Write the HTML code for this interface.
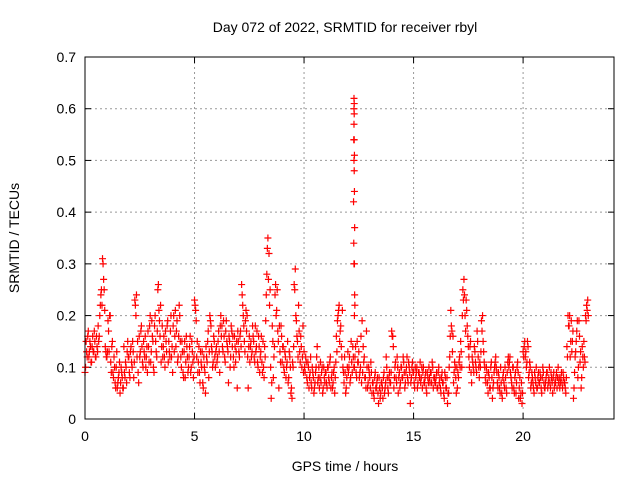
<!DOCTYPE html>
<html><head><meta charset="utf-8"><style>
body{margin:0;background:#fff;width:640px;height:480px;overflow:hidden}
svg{font-family:"Liberation Sans",sans-serif}
</style></head><body>
<svg id="chart" width="640" height="480" viewBox="0 0 640 480">
<rect width="640" height="480" fill="#fff"/>
<text x="345" y="32" font-size="14" text-anchor="middle">Day 072 of 2022, SRMTID for receiver rbyl</text>
<text x="345" y="471" font-size="14" text-anchor="middle">GPS time / hours</text>
<text transform="translate(19,238) rotate(-90)" font-size="14" text-anchor="middle">SRMTID / TECUs</text>
<g id="grid"></g>
<g id="ticks"></g>
<g id="points"></g>
<rect x="85" y="57" width="529" height="362" fill="none" stroke="#000" stroke-width="1"/>
</svg>
<script>
const xTicks=[0,5,10,15,20];
const yTicks=[0,0.1,0.2,0.3,0.4,0.5,0.6,0.7];
const yTickLabels=["0","0.1","0.2","0.3","0.4","0.5","0.6","0.7"];
const timeStart=0, timeStep=0.05, timeStart2=0.025;
const srmtid=[
0.09,0.15,0.12,0.17,0.13,0.14,0.11,0.16,0.13,0.15,0.12,0.14,0.18,0.16,0.22,0.25,0.31,0.27,0.21,0.13,
0.12,0.19,0.13,0.2,0.09,0.15,0.08,0.1,0.06,0.13,0.07,0.09,0.05,0.1,0.08,0.06,0.09,0.11,0.07,0.15,
0.12,0.08,0.14,0.1,0.13,0.11,0.22,0.24,0.15,0.07,0.12,0.17,0.14,0.1,0.13,0.16,0.12,0.09,0.14,0.18,
0.11,0.19,0.15,0.09,0.2,0.13,0.17,0.26,0.19,0.22,0.14,0.12,0.16,0.1,0.15,0.18,0.11,0.13,0.17,0.12,
0.09,0.2,0.16,0.14,0.19,0.12,0.22,0.15,0.1,0.13,0.08,0.15,0.11,0.14,0.09,0.12,0.16,0.1,0.13,0.08,
0.23,0.21,0.12,0.09,0.14,0.07,0.11,0.13,0.06,0.1,0.05,0.12,0.15,0.08,0.2,0.18,0.13,0.11,0.15,0.1,
0.14,0.12,0.17,0.09,0.2,0.18,0.13,0.16,0.11,0.19,0.14,0.07,0.15,0.12,0.17,0.16,0.1,0.14,0.13,0.06,
0.15,0.12,0.17,0.26,0.22,0.18,0.13,0.21,0.2,0.06,0.16,0.14,0.12,0.18,0.15,0.11,0.13,0.17,0.1,0.14,
0.12,0.16,0.09,0.1,0.14,0.19,0.28,0.35,0.32,0.25,0.04,0.18,0.08,0.14,0.26,0.21,0.17,0.06,0.13,0.18,
0.11,0.14,0.09,0.12,0.1,0.15,0.08,0.12,0.05,0.04,0.1,0.26,0.29,0.19,0.15,0.22,0.13,0.16,0.1,0.18,
0.13,0.09,0.11,0.07,0.1,0.08,0.12,0.06,0.09,0.05,0.07,0.1,0.14,0.08,0.06,0.11,0.09,0.05,0.1,0.07,
0.09,0.06,0.1,0.07,0.12,0.08,0.06,0.09,0.05,0.11,0.13,0.2,0.22,0.17,0.14,0.21,0.09,0.12,0.05,0.08,
0.13,0.1,0.07,0.15,0.09,0.12,0.1,0.14,0.08,0.11,0.13,0.09,0.16,0.19,0.14,0.12,0.08,0.17,0.06,0.1,
0.08,0.11,0.05,0.07,0.04,0.09,0.06,0.08,0.03,0.06,0.05,0.07,0.04,0.09,0.06,0.12,0.08,0.05,0.09,0.07,
0.17,0.16,0.06,0.1,0.08,0.12,0.05,0.09,0.07,0.1,0.08,0.11,0.06,0.09,0.12,0.07,0.1,0.03,0.08,0.11,
0.09,0.06,0.08,0.1,0.07,0.09,0.11,0.08,0.06,0.1,0.07,0.09,0.05,0.08,0.1,0.07,0.09,0.11,0.06,0.08,
0.07,0.09,0.06,0.1,0.08,0.05,0.09,0.07,0.04,0.08,0.06,0.03,0.05,0.12,0.21,0.17,0.16,0.09,0.1,0.05,
0.06,0.08,0.12,0.15,0.1,0.25,0.27,0.2,0.23,0.18,0.14,0.1,0.15,0.07,0.11,0.09,0.13,0.1,0.17,0.12,
0.08,0.1,0.19,0.2,0.13,0.1,0.07,0.09,0.05,0.08,0.06,0.11,0.04,0.07,0.1,0.12,0.09,0.06,0.08,0.05,
0.07,0.04,0.09,0.06,0.08,0.05,0.11,0.1,0.12,0.08,0.06,0.1,0.05,0.09,0.07,0.11,0.04,0.08,0.05,0.03,
0.13,0.14,0.12,0.1,0.15,0.08,0.11,0.06,0.09,0.07,0.05,0.08,0.1,0.06,0.09,0.07,0.08,0.05,0.1,0.07,
0.06,0.08,0.09,0.07,0.1,0.06,0.08,0.05,0.09,0.07,0.08,0.06,0.1,0.08,0.07,0.09,0.06,0.08,0.07,0.05,
0.14,0.2,0.18,0.12,0.19,0.15,0.04,0.09,0.13,0.17,0.08,0.19,0.11,0.06,0.14,0.1,0.12,0.2,0.22,0.23
];
const srmtid2=[
0.1,0.13,0.16,0.12,0.15,0.11,0.14,0.13,0.17,0.12,0.16,0.13,0.15,0.2,0.24,0.22,0.3,0.25,0.14,0.12,
0.13,0.17,0.2,0.11,0.14,0.09,0.12,0.07,0.1,0.06,0.08,0.11,0.07,0.09,0.06,0.14,0.08,0.1,0.13,0.12,
0.09,0.13,0.11,0.15,0.08,0.23,0.2,0.12,0.09,0.16,0.13,0.18,0.11,0.15,0.12,0.1,0.14,0.17,0.11,0.2,
0.13,0.16,0.1,0.18,0.15,0.12,0.25,0.21,0.16,0.11,0.18,0.14,0.12,0.17,0.13,0.19,0.15,0.12,0.2,0.14,
0.18,0.13,0.21,0.17,0.11,0.16,0.2,0.12,0.15,0.09,0.13,0.08,0.16,0.12,0.1,0.14,0.09,0.15,0.11,0.12,
0.22,0.19,0.15,0.11,0.09,0.13,0.1,0.07,0.12,0.09,0.14,0.11,0.17,0.13,0.19,0.14,0.1,0.16,0.12,0.13,
0.11,0.15,0.13,0.18,0.16,0.14,0.19,0.12,0.17,0.15,0.13,0.16,0.1,0.18,0.14,0.12,0.16,0.11,0.15,0.17,
0.13,0.16,0.14,0.24,0.2,0.15,0.19,0.17,0.12,0.14,0.11,0.15,0.13,0.16,0.12,0.18,0.14,0.11,0.16,0.09,
0.13,0.11,0.15,0.08,0.12,0.24,0.33,0.27,0.22,0.1,0.07,0.15,0.12,0.24,0.2,0.25,0.15,0.18,0.11,0.16,
0.14,0.1,0.13,0.08,0.11,0.07,0.13,0.1,0.06,0.11,0.14,0.25,0.2,0.16,0.12,0.17,0.11,0.14,0.12,0.09,
0.1,0.12,0.08,0.11,0.06,0.09,0.07,0.1,0.08,0.06,0.09,0.12,0.07,0.1,0.08,0.07,0.1,0.06,0.08,0.09,
0.07,0.1,0.08,0.11,0.06,0.09,0.07,0.1,0.08,0.16,0.19,0.21,0.15,0.18,0.12,0.1,0.07,0.09,0.06,0.1,
0.09,0.12,0.08,0.11,0.14,0.1,0.12,0.09,0.15,0.11,0.08,0.1,0.07,0.09,0.11,0.08,0.06,0.1,0.07,0.09,
0.06,0.09,0.07,0.05,0.08,0.06,0.07,0.05,0.08,0.04,0.07,0.06,0.08,0.05,0.07,0.1,0.06,0.08,0.07,0.09,
0.16,0.14,0.08,0.11,0.07,0.1,0.08,0.06,0.1,0.08,0.12,0.09,0.07,0.1,0.08,0.11,0.09,0.07,0.1,0.09,
0.07,0.1,0.09,0.06,0.09,0.08,0.07,0.1,0.09,0.07,0.08,0.06,0.09,0.07,0.08,0.09,0.07,0.1,0.08,0.07,
0.08,0.06,0.09,0.07,0.06,0.08,0.07,0.05,0.09,0.06,0.08,0.05,0.1,0.16,0.18,0.13,0.07,0.11,0.08,0.1,
0.09,0.11,0.1,0.13,0.2,0.23,0.24,0.17,0.21,0.16,0.12,0.14,0.09,0.12,0.1,0.14,0.11,0.09,0.15,0.1,
0.11,0.13,0.17,0.15,0.11,0.08,0.1,0.07,0.09,0.06,0.1,0.08,0.06,0.09,0.11,0.1,0.07,0.09,0.06,0.1,
0.05,0.08,0.07,0.1,0.06,0.09,0.12,0.11,0.09,0.07,0.1,0.06,0.08,0.05,0.1,0.09,0.06,0.04,0.07,0.05,
0.12,0.15,0.13,0.11,0.14,0.09,0.1,0.07,0.08,0.06,0.09,0.07,0.06,0.08,0.07,0.09,0.06,0.08,0.09,0.06,
0.07,0.09,0.06,0.08,0.07,0.09,0.07,0.08,0.06,0.07,0.09,0.08,0.07,0.06,0.08,0.07,0.09,0.07,0.06,0.08,
0.12,0.18,0.2,0.15,0.13,0.17,0.06,0.12,0.15,0.19,0.1,0.16,0.13,0.08,0.12,0.15,0.11,0.19,0.21,0.2
];
const spikeTimes=[12.28,12.29,12.28,12.29,12.28,12.27,12.29,12.28,12.3,12.29,12.3,12.26,12.31,12.27,12.28,12.3,12.31,12.32,12.3];
const spikeValues=[0.62,0.61,0.6,0.59,0.57,0.54,0.54,0.5,0.51,0.48,0.44,0.42,0.37,0.34,0.3,0.3,0.24,0.22,0.2];
const NS="http://www.w3.org/2000/svg";
const X0=85,X1=614,XMAX=24.15,Y0=419,Y1=57,YMAX=0.7;
const xs=v=>X0+(v/XMAX)*(X1-X0);
const ys=v=>Y0-(v/YMAX)*(Y0-Y1);
function mk(tag,attrs,parent){const e=document.createElementNS(NS,tag);for(const k in attrs)e.setAttribute(k,attrs[k]);parent.appendChild(e);return e;}
const grid=document.getElementById('grid'),ticks=document.getElementById('ticks'),pts=document.getElementById('points');
xTicks.forEach(t=>{
  const x=xs(t);
  if(t>0){const g=mk('line',{x1:x,x2:x,y1:Y0,y2:Y1,stroke:'#999','stroke-dasharray':'2,3'},grid);
  
  }
  mk('line',{x1:x,x2:x,y1:Y0,y2:Y0-6,stroke:'#000'},ticks);
  mk('line',{x1:x,x2:x,y1:Y1,y2:Y1+6,stroke:'#000'},ticks);
  const l=mk('text',{x:x,y:Y0+22,'font-size':14,'text-anchor':'middle'},ticks);l.textContent=t;
  
  
});
yTicks.forEach((t,i)=>{
  const y=ys(t);
  if(t>0&&t<YMAX){const g=mk('line',{x1:X0,x2:X1,y1:y,y2:y,stroke:'#999','stroke-dasharray':'2,3'},grid);
  
  }
  mk('line',{x1:X0,x2:X0+6,y1:y,y2:y,stroke:'#000'},ticks);
  mk('line',{x1:X1,x2:X1-6,y1:y,y2:y,stroke:'#000'},ticks);
  const l=mk('text',{x:X0-9,y:y+5,'font-size':14,'text-anchor':'end'},ticks);l.textContent=yTickLabels[i];
  
  
});
function plus(t,v){
  const x=xs(t),y=ys(v);
  const p=mk('path',{d:`M${x-3.5},${y}h7M${x},${y-3.5}v7`,stroke:'#f00','stroke-width':1.2,fill:'none'},pts);
  
  
}
srmtid.forEach((v,i)=>plus(timeStart+i*timeStep,v));
srmtid2.forEach((v,i)=>plus(timeStart2+i*timeStep,v));
spikeValues.forEach((v,i)=>plus(spikeTimes[i],v));
</script>
</body></html>
